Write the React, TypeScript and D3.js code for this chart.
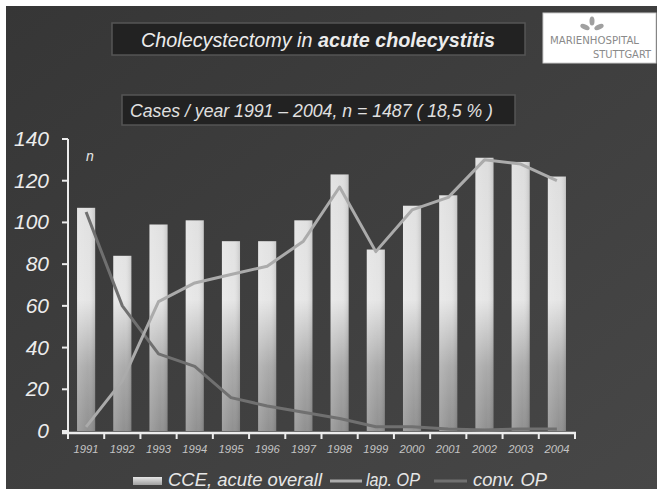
import React from "react";
import * as d3 from "d3";

const years = ["1991","1992","1993","1994","1995","1996","1997","1998","1999","2000","2001","2002","2003","2004"];
const overall = [107, 84, 99, 101, 91, 91, 101, 123, 87, 108, 113, 131, 129, 122];
const lapOP = [2, 24, 62, 71, 75, 79, 91, 117, 86, 106, 112, 130, 128, 120];
const convOP = [105, 60, 37, 31, 16, 12, 9, 6, 2, 2, 1, 0.5, 1, 1];
const yTicks = [0, 20, 40, 60, 80, 100, 120, 140];

const W = 657, H = 491;
const FONT = "'Liberation Sans', Arial, sans-serif";
const NARROW = "'Liberation Sans Narrow', 'DejaVu Sans Condensed', sans-serif";

export default function App() {
  const x = d3.scaleBand<string>().domain(years).range([68, 575]).paddingInner(0.5).paddingOuter(0.25);
  const y = d3.scaleLinear().domain([0, 140]).range([431, 139]);
  const cx = (i: number) => (x(years[i]) as number) + x.bandwidth() / 2;
  const line = d3.line<number>().x((_, i) => cx(i)).y((d) => y(d));
  const tickXs = d3.range(0, years.length + 1).map((i) => 68 + i * (507 / 14));

  return (
    <svg width={W} height={H} style={{ position: "absolute", left: 0, top: 0 }} fontFamily={FONT}>
      <defs>
        <linearGradient id="bg" x1="0" y1="0" x2="1" y2="1">
          <stop offset="0%" stopColor="#363636" />
          <stop offset="100%" stopColor="#474747" />
        </linearGradient>
        <linearGradient id="bar" gradientUnits="userSpaceOnUse" x1="0" y1={y(140)} x2="0" y2={y(0)}>
          <stop offset="0%" stopColor="#dcdcdc" />
          <stop offset="55%" stopColor="#e6e6e6" />
          <stop offset="78%" stopColor="#ababab" />
          <stop offset="100%" stopColor="#909090" />
        </linearGradient>
        <linearGradient id="barH" x1="0" y1="0" x2="1" y2="0">
          <stop offset="0%" stopColor="#ffffff" stopOpacity="0.15" />
          <stop offset="60%" stopColor="#ffffff" stopOpacity="0" />
          <stop offset="100%" stopColor="#000000" stopOpacity="0.12" />
        </linearGradient>
        <linearGradient id="sw" x1="0" y1="0" x2="0" y2="1">
          <stop offset="0%" stopColor="#e6e6e6" />
          <stop offset="100%" stopColor="#a0a0a0" />
        </linearGradient>
      </defs>
      <rect x={0} y={0} width={W} height={H} fill="#ffffff" />
      <rect x={6} y={6} width={W - 6} height={483} fill="url(#bg)" />

      {/* title box */}
      <rect x={112} y={23} width={413} height={32} fill="#222222" stroke="#555555" strokeWidth={1.5} />
      <text x={141} y={47} fill="#ececec" fontSize={20} fontStyle="italic" textLength={354} lengthAdjust="spacingAndGlyphs">
        Cholecystectomy in <tspan fontWeight="bold">acute cholecystitis</tspan>
      </text>

      {/* subtitle box */}
      <rect x={122} y={95} width={393} height={30} fill="#222222" stroke="#555555" strokeWidth={1.5} />
      <text x={130} y={117} fill="#e0e0e0" fontSize={17.5} fontStyle="italic" textLength={363} lengthAdjust="spacingAndGlyphs">
        Cases / year 1991 – 2004, n = 1487 ( 18,5 % )
      </text>

      {/* logo */}
      <rect x={543} y={13} width={113} height={50} fill="#ffffff" stroke="#cccccc" />
      <g fill="#a0a0a0">
        <ellipse cx={592} cy={21} rx={2.5} ry={4.5} />
        <ellipse cx={585} cy={27} rx={5} ry={2.5} transform="rotate(25 585 27)" />
        <ellipse cx={599} cy={27} rx={5} ry={2.5} transform="rotate(-25 599 27)" />
      </g>
      <text x={550} y={44} fill="#8a8a8a" fontSize={11} fontFamily={NARROW} textLength={89} lengthAdjust="spacingAndGlyphs">
        MARIENHOSPITAL
      </text>
      <text x={593} y={58} fill="#8a8a8a" fontSize={11} fontFamily={NARROW} textLength={58} lengthAdjust="spacingAndGlyphs">
        STUTTGART
      </text>

      {/* bars */}
      {overall.map((v, i) => (
        <g key={years[i]}>
          <rect x={x(years[i])} y={y(v)} width={x.bandwidth()} height={y(0) - y(v)} fill="url(#bar)" />
          <rect x={x(years[i])} y={y(v)} width={x.bandwidth()} height={y(0) - y(v)} fill="url(#barH)" />
        </g>
      ))}

      {/* lines */}
      <path d={line(convOP) || ""} fill="none" stroke="#707070" strokeWidth={3} strokeLinejoin="round" />
      <path d={line(lapOP) || ""} fill="none" stroke="#ababab" strokeWidth={3} strokeLinejoin="round" />

      {/* y axis */}
      <line x1={68} x2={68} y1={y(140)} y2={y(0) + 3} stroke="#ececec" strokeWidth={2} />
      {yTicks.map((t) => (
        <g key={t}>
          <line x1={62} x2={68} y1={y(t)} y2={y(t)} stroke="#ececec" strokeWidth={2} />
          <text x={49} y={y(t) + 7} textAnchor="end" fill="#ececec" fontSize={21} fontStyle="italic">
            {t}
          </text>
        </g>
      ))}
      <text x={86} y={161} fill="#e8e8e8" fontSize={14} fontStyle="italic">n</text>

      {/* x axis */}
      <line x1={62} x2={576} y1={y(0) + 2} y2={y(0) + 2} stroke="#ececec" strokeWidth={2.5} />
      {tickXs.map((tx, i) => (
        <line key={i} x1={tx} x2={tx} y1={y(0) + 2} y2={y(0) + 8} stroke="#ececec" strokeWidth={2} />
      ))}
      {years.map((yr, i) => (
        <text key={yr} x={cx(i)} y={453} textAnchor="middle" fill="#c4c4c4" fontSize={11} fontStyle="italic" textLength={25} lengthAdjust="spacingAndGlyphs">
          {yr}
        </text>
      ))}

      {/* legend */}
      <rect x={133} y={477} width={29} height={8} fill="url(#sw)" />
      <text x={168} y={486} fill="#e6e6e6" fontSize={17.5} fontStyle="italic" textLength={154} lengthAdjust="spacingAndGlyphs">CCE, acute overall</text>
      <line x1={330} x2={362} y1={481} y2={481} stroke="#ababab" strokeWidth={3} />
      <text x={366} y={486} fill="#e6e6e6" fontSize={17.5} fontStyle="italic" textLength={54} lengthAdjust="spacingAndGlyphs">lap. OP</text>
      <line x1={434} x2={467} y1={481} y2={481} stroke="#707070" strokeWidth={3} />
      <text x={473} y={486} fill="#e6e6e6" fontSize={17.5} fontStyle="italic" textLength={74} lengthAdjust="spacingAndGlyphs">conv. OP</text>
    </svg>
  );
}
